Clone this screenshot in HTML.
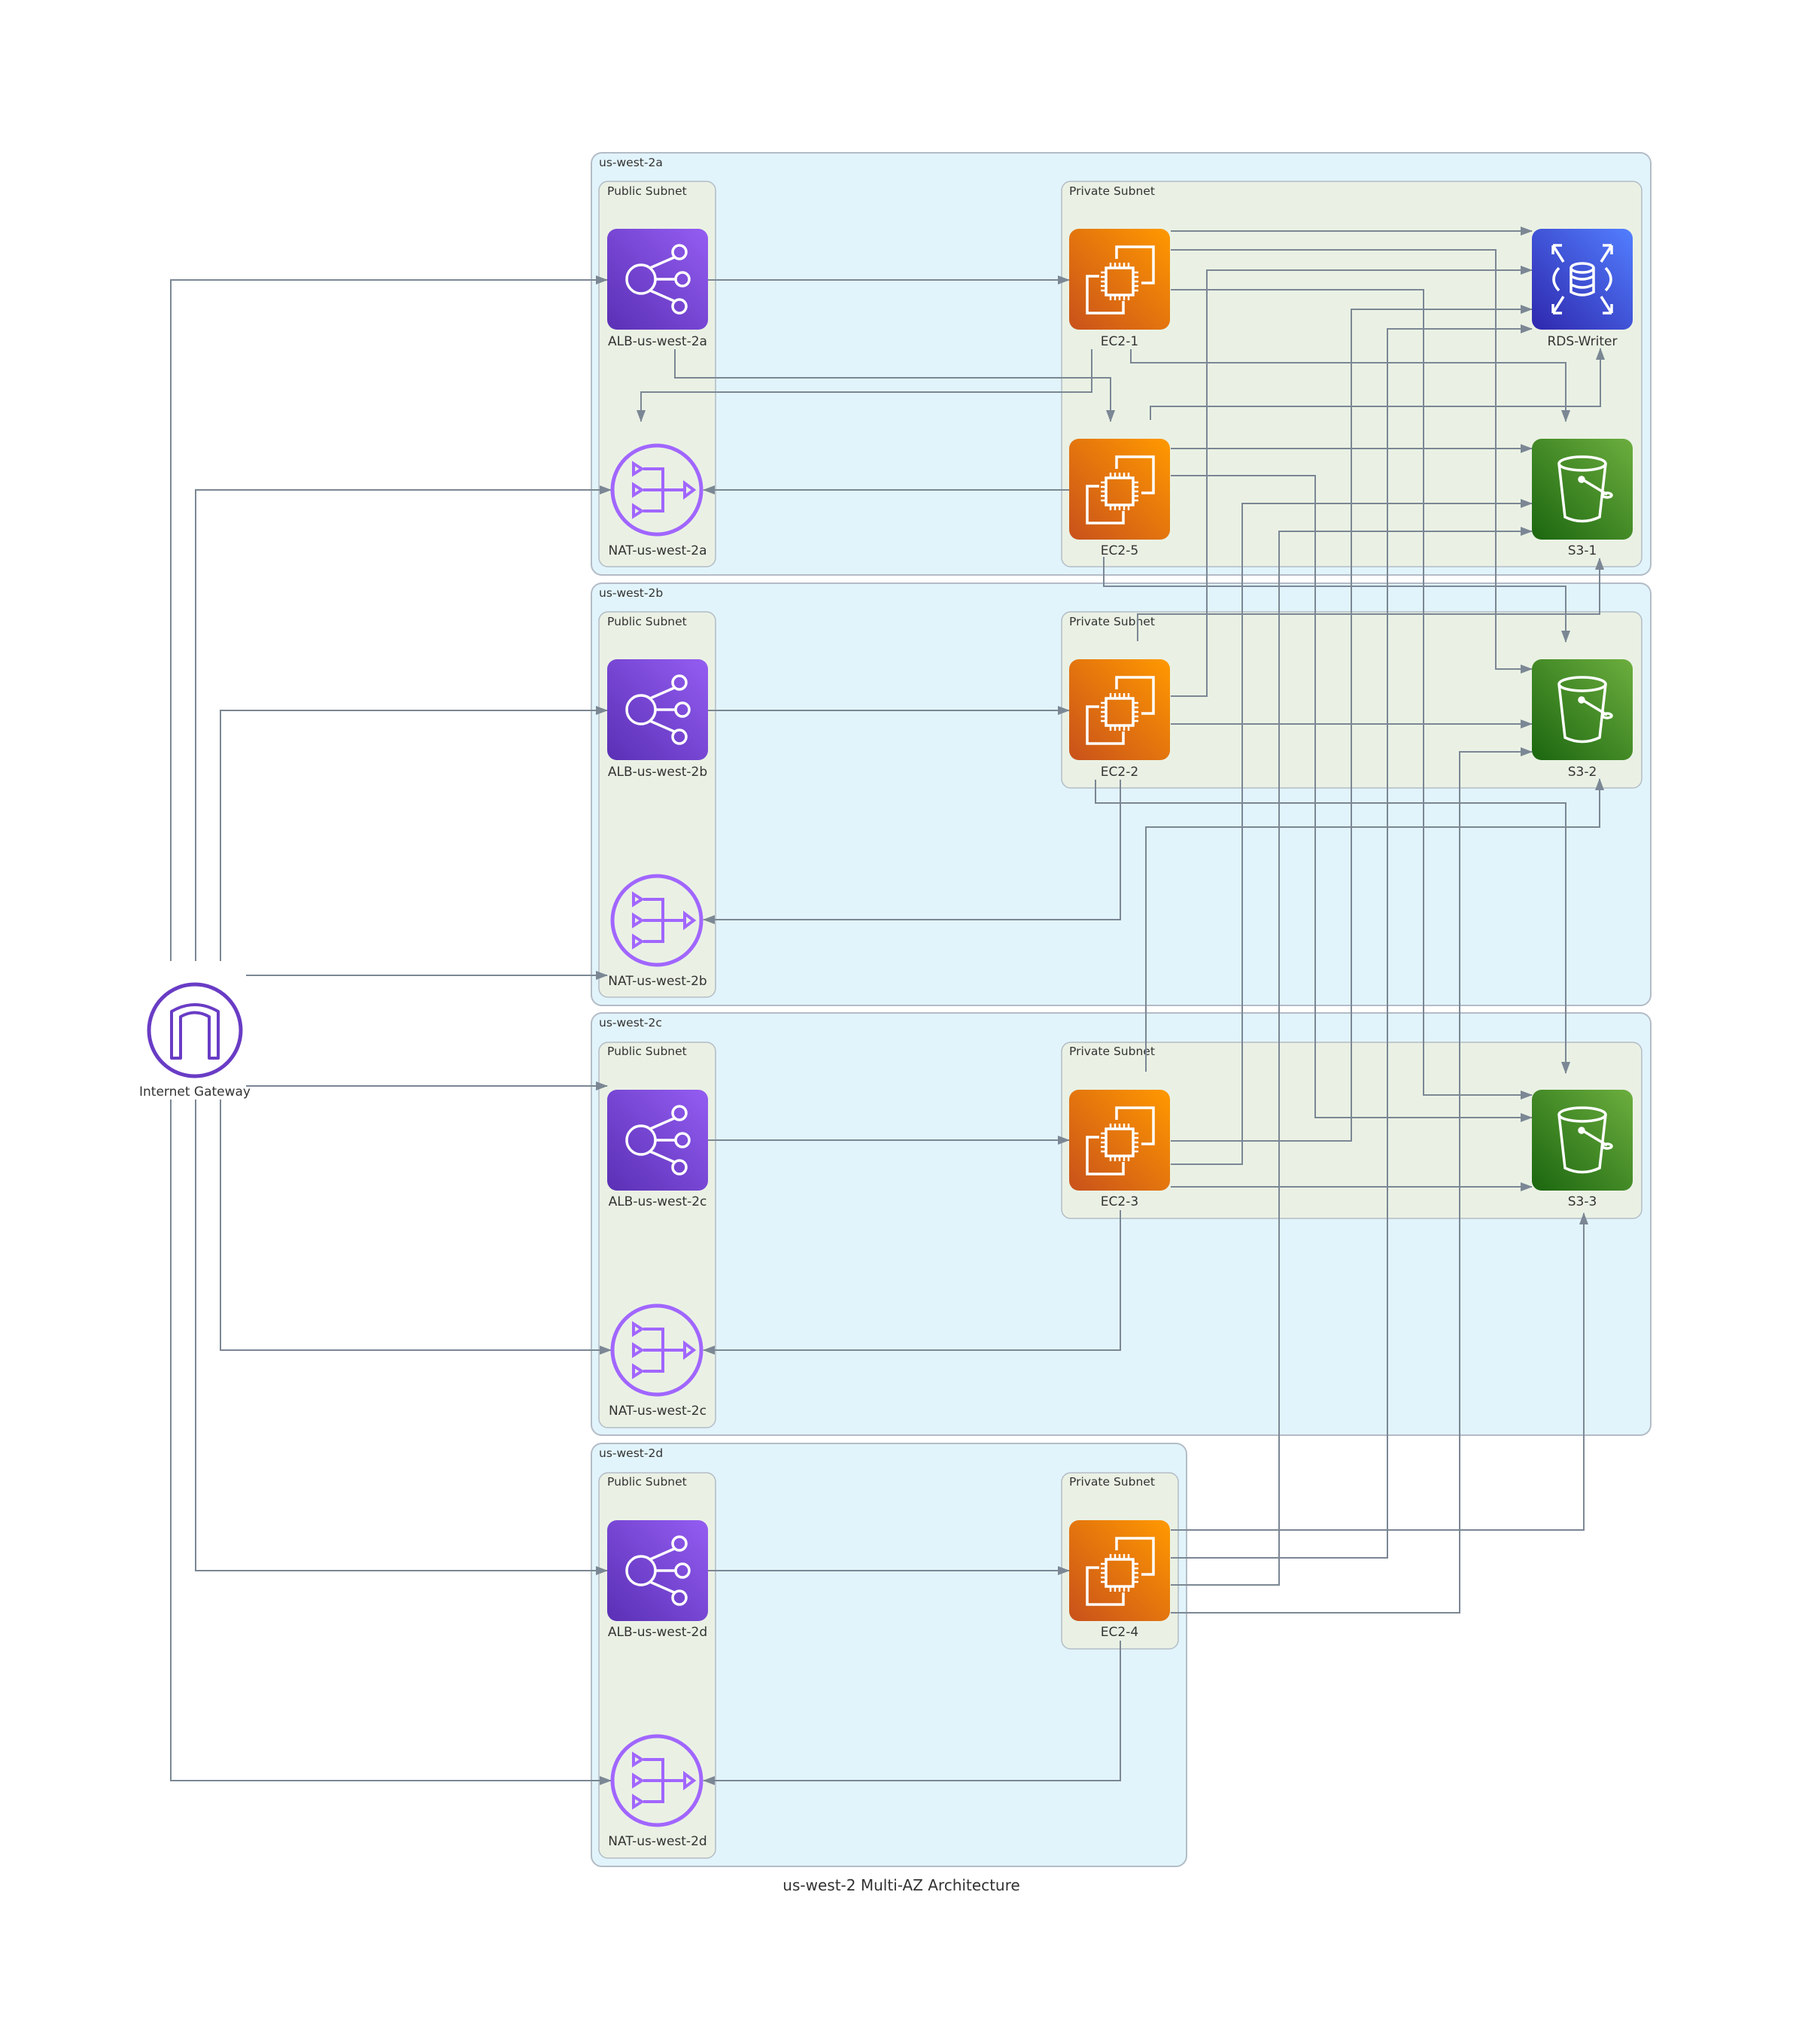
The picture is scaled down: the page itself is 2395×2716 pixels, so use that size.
<!DOCTYPE html>
<html><head><meta charset="utf-8"><style>
html,body{margin:0;padding:0;background:#fff}
svg{display:block}
text{font-family:"DejaVu Sans","Liberation Sans",sans-serif;fill:#333}
</style></head><body>
<svg width="2395" height="2716" viewBox="0 0 2395 2716" xmlns="http://www.w3.org/2000/svg">
<defs>
<linearGradient id="gp" x1="0" y1="1" x2="1" y2="0"><stop offset="0" stop-color="#5a30b5"/><stop offset="1" stop-color="#945df2"/></linearGradient>
<linearGradient id="go" x1="0" y1="1" x2="1" y2="0"><stop offset="0" stop-color="#c8511b"/><stop offset="1" stop-color="#ff9900"/></linearGradient>
<linearGradient id="gb" x1="0" y1="1" x2="1" y2="0"><stop offset="0" stop-color="#2e27ad"/><stop offset="1" stop-color="#527fff"/></linearGradient>
<linearGradient id="gg" x1="0" y1="1" x2="1" y2="0"><stop offset="0" stop-color="#1b660f"/><stop offset="1" stop-color="#6cae3e"/></linearGradient>
<marker id="ar" markerUnits="userSpaceOnUse" markerWidth="16" markerHeight="12" refX="15" refY="6" orient="auto"><path d="M0,0 L16,6 L0,12 z" fill="#7b8794"/></marker>
<g id="alb"><rect width="134" height="134" rx="13" fill="url(#gp)"/><g fill="none" stroke="#fff" stroke-width="3.5"><circle cx="45" cy="67" r="19"/><circle cx="96" cy="31" r="9"/><circle cx="100" cy="67" r="9"/><circle cx="96" cy="103" r="9"/><path d="M57,52 L89,38 M64,67 L91,67 M57,82 L89,96"/></g></g>
<g id="ec2"><rect width="134" height="134" rx="13" fill="url(#go)"/><g fill="none" stroke="#fff" stroke-width="3.5"><rect x="49" y="52" width="36" height="36"/><path d="M63,40 V24 H112 V72 H96 M72,96 V112 H24 V63 H40"/><path d="M55,52 V45 M61,52 V45 M67,52 V45 M73,52 V45 M79,52 V45 M55,88 V95 M61,88 V95 M67,88 V95 M73,88 V95 M79,88 V95 M49,58 H42 M49,64 H42 M49,70 H42 M49,76 H42 M49,82 H42 M85,58 H92 M85,64 H92 M85,70 H92 M85,76 H92 M85,82 H92" stroke-width="2.5"/></g></g>
<g id="rds"><rect width="134" height="134" rx="13" fill="url(#gb)"/><g fill="none" stroke="#fff" stroke-width="3.5"><ellipse cx="67" cy="52" rx="15" ry="6"/><path d="M52,52 V84 Q67,92 82,84 V52 M52,63 Q67,71 82,63 M52,74 Q67,82 82,74"/><path d="M36,52 Q22,67 36,82 M98,52 Q112,67 98,82"/><path d="M28,22 L42,44 M28,22 V34 M28,22 H40 M106,22 L92,44 M106,22 V34 M106,22 H94 M28,112 L42,90 M28,112 V100 M28,112 H40 M106,112 L92,90 M106,112 V100 M106,112 H94"/></g></g>
<g id="s3"><rect width="134" height="134" rx="13" fill="url(#gg)"/><g fill="none" stroke="#fff" stroke-width="3.5"><ellipse cx="67" cy="33" rx="31" ry="9"/><path d="M36,33 L44,104 Q67,115 90,104 L98,33"/><path d="M67,54 L100,74"/><ellipse cx="100" cy="75" rx="6" ry="3"/><circle cx="66" cy="54" r="3" fill="#fff"/></g></g>
<g id="nat"><circle cx="0" cy="0" r="59" fill="none" stroke="#a166ff" stroke-width="5"/><g fill="none" stroke="#a166ff" stroke-width="4"><path d="M-31,-35 L-20,-28 L-31,-21 Z M-31,-7 L-20,0 L-31,7 Z M-31,21 L-20,28 L-31,35 Z"/><path d="M-18,-28 H8 V28 H-18 M-18,0 H37 M37,-9 L49,0 L37,9 Z"/></g></g>
</defs>
<rect width="2395" height="2716" fill="#fff"/>

<g stroke="#b3bcc6" stroke-width="2">
<rect x="786" y="203" width="1408" height="561" rx="14" fill="#e2f4fb"/>
<rect x="786" y="775" width="1408" height="561" rx="14" fill="#e2f4fb"/>
<rect x="786" y="1346" width="1408" height="561" rx="14" fill="#e2f4fb"/>
<rect x="786" y="1918" width="791" height="562" rx="14" fill="#e2f4fb"/>
</g>
<g stroke="#b3bcc6" stroke-width="1.5" fill="#eaf1e4">
<rect x="796" y="241" width="155" height="512" rx="12"/>
<rect x="1411" y="241" width="771" height="512" rx="12"/>
<rect x="796" y="813" width="155" height="512" rx="12"/>
<rect x="1411" y="813" width="771" height="234" rx="12"/>
<rect x="796" y="1385" width="155" height="512" rx="12"/>
<rect x="1411" y="1385" width="771" height="234" rx="12"/>
<rect x="796" y="1957" width="155" height="512" rx="12"/>
<rect x="1411" y="1957" width="155" height="234" rx="12"/>
</g>
<g font-size="15.5">
<text x="796" y="221">us-west-2a</text><text x="807" y="259">Public Subnet</text><text x="1421" y="259">Private Subnet</text>
<text x="796" y="793">us-west-2b</text><text x="807" y="831">Public Subnet</text><text x="1421" y="831">Private Subnet</text>
<text x="796" y="1364">us-west-2c</text><text x="807" y="1402">Public Subnet</text><text x="1421" y="1402">Private Subnet</text>
<text x="796" y="1936">us-west-2d</text><text x="807" y="1974">Public Subnet</text><text x="1421" y="1974">Private Subnet</text>
</g>

<g fill="none" stroke="#7b8794" stroke-width="2" marker-end="url(#ar)">
<polyline points="227,1277 227,372 807,372"/>
<polyline points="260,1277 260,651 812,651"/>
<polyline points="293,1277 293,944 807,944"/>
<polyline points="327,1296 807,1296"/>
<polyline points="327,1443 807,1443"/>
<polyline points="293,1461 293,1794 812,1794"/>
<polyline points="260,1461 260,2087 807,2087"/>
<polyline points="227,1461 227,2366 812,2366"/>
<polyline points="941,372 1421,372"/>
<polyline points="941,944 1421,944"/>
<polyline points="941,1515 1421,1515"/>
<polyline points="941,2087 1421,2087"/>
<polyline points="1421,651 935,651"/>
<polyline points="1489,1036 1489,1222 935,1222"/>
<polyline points="1489,1608 1489,1794 935,1794"/>
<polyline points="1489,2180 1489,2366 935,2366"/>
<polyline points="1451,464 1451,521 852,521 852,560"/>
<polyline points="897,464 897,502 1476,502 1476,560"/>
<polyline points="1503,464 1503,482 2081,482 2081,560"/>
<polyline points="1529,558 1529,540 2127,540 2127,463"/>
<polyline points="1556,307 2036,307"/>
<polyline points="1556,332 1988,332 1988,889 2036,889"/>
<polyline points="1556,385 1892,385 1892,1455 2036,1455"/>
<polyline points="1556,925 1604,925 1604,359 2036,359"/>
<polyline points="1556,1516 1796,1516 1796,411 2036,411"/>
<polyline points="1556,2070 1844,2070 1844,437 2036,437"/>
<polyline points="1556,596 2036,596"/>
<polyline points="1556,632 1748,632 1748,1485 2036,1485"/>
<polyline points="1556,1547 1651,1547 1651,669 2036,669"/>
<polyline points="1556,2106 1700,2106 1700,706 2036,706"/>
<polyline points="1467,740 1467,779 2081,779 2081,853"/>
<polyline points="1512,852 1512,816 2126,816 2126,742"/>
<polyline points="1556,962 2036,962"/>
<polyline points="1456,1036 1456,1067 2081,1067 2081,1426"/>
<polyline points="1523,1424 1523,1099 2126,1099 2126,1035"/>
<polyline points="1556,2143 1940,2143 1940,999 2036,999"/>
<polyline points="1556,1577 2036,1577"/>
<polyline points="1556,2033 2105,2033 2105,1612"/>
</g>

<use href="#alb" x="807" y="304"/>
<use href="#alb" x="807" y="876"/>
<use href="#alb" x="807" y="1448"/>
<use href="#alb" x="807" y="2020"/>
<use href="#nat" x="873" y="651"/>
<use href="#nat" x="873" y="1223"/>
<use href="#nat" x="873" y="1794"/>
<use href="#nat" x="873" y="2366"/>
<use href="#ec2" x="1421" y="304"/>
<use href="#ec2" x="1421" y="583"/>
<use href="#ec2" x="1421" y="876"/>
<use href="#ec2" x="1421" y="1448"/>
<use href="#ec2" x="1421" y="2020"/>
<use href="#rds" x="2036" y="304"/>
<use href="#s3" x="2036" y="583"/>
<use href="#s3" x="2036" y="876"/>
<use href="#s3" x="2036" y="1448"/>

<circle cx="259" cy="1369" r="61" fill="none" stroke="#693cc5" stroke-width="5"/>
<path d="M228,1406 V1344 Q259,1326 290,1344 V1406 H278 V1351 Q259,1340 240,1351 V1406 Z" fill="none" stroke="#693cc5" stroke-width="4" stroke-linejoin="round"/>

<g font-size="17" text-anchor="middle">
<text x="874" y="459">ALB-us-west-2a</text>
<text x="874" y="737">NAT-us-west-2a</text>
<text x="874" y="1031">ALB-us-west-2b</text>
<text x="874" y="1309">NAT-us-west-2b</text>
<text x="874" y="1602">ALB-us-west-2c</text>
<text x="874" y="1880">NAT-us-west-2c</text>
<text x="874" y="2174">ALB-us-west-2d</text>
<text x="874" y="2452">NAT-us-west-2d</text>
<text x="1488" y="459">EC2-1</text>
<text x="1488" y="737">EC2-5</text>
<text x="1488" y="1031">EC2-2</text>
<text x="1488" y="1602">EC2-3</text>
<text x="1488" y="2174">EC2-4</text>
<text x="2103" y="459">RDS-Writer</text>
<text x="2103" y="737">S3-1</text>
<text x="2103" y="1031">S3-2</text>
<text x="2103" y="1602">S3-3</text>
<text x="259" y="1456">Internet Gateway</text>
<text x="1198" y="2512" font-size="20">us-west-2 Multi-AZ Architecture</text>
</g>
</svg>
</body></html>
